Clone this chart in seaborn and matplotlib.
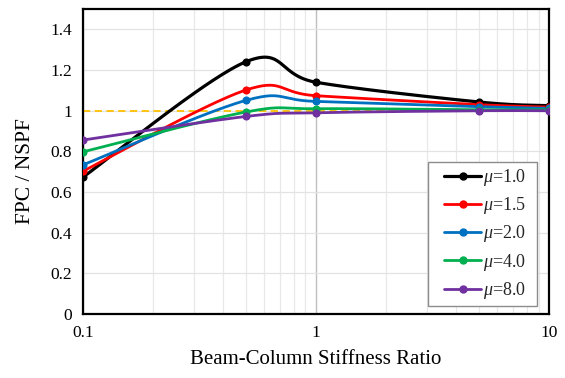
import numpy as np
import pandas as pd
import seaborn as sns
import matplotlib
matplotlib.use("Agg")
import matplotlib.pyplot as plt
from matplotlib.lines import Line2D
from matplotlib.legend_handler import HandlerLine2D
from matplotlib.ticker import FixedLocator, NullFormatter

# Beam-column stiffness ratios at which FPC/NSPF was evaluated
stiffness_ratio = [0.1, 0.5, 1, 5, 10]

# FPC / NSPF for each ductility level
mu_labels = ["1.0", "1.5", "2.0", "4.0", "8.0"]
ratio_mu_1_0 = [0.674, 1.241, 1.140, 1.043, 1.025]
ratio_mu_1_5 = [0.703, 1.102, 1.074, 1.030, 1.018]
ratio_mu_2_0 = [0.734, 1.051, 1.046, 1.020, 1.012]
ratio_mu_4_0 = [0.798, 0.994, 1.010, 1.005, 1.005]
ratio_mu_8_0 = [0.856, 0.972, 0.990, 1.000, 1.000]
series_colors = ["#000000", "#ff0000", "#0070c0", "#00b050", "#7030a0"]

reference_level = 1.0

sns.set_theme(style="white")
plt.rcParams["font.family"] = ["Liberation Serif", "DejaVu Serif"]
plt.rcParams["mathtext.fontset"] = "custom"
plt.rcParams["mathtext.rm"] = "Liberation Serif"
plt.rcParams["mathtext.it"] = "Liberation Serif:italic"


def smooth_curve(xs, ys, n=60):
    """Smoothed line through the points (Bezier / Catmull-Rom), built in log-x space."""
    u = np.log10(np.asarray(xs, float))
    v = np.asarray(ys, float)
    pts = np.column_stack([u, v])
    out = []
    for i in range(len(pts) - 1):
        p0 = pts[i - 1] if i > 0 else pts[i]
        p1 = pts[i]
        p2 = pts[i + 1]
        p3 = pts[i + 2] if i + 2 < len(pts) else pts[i + 1]
        c1 = p1 + (p2 - p0) / 6.0
        c2 = p2 - (p3 - p1) / 6.0
        t = np.linspace(0, 1, n)[:, None]
        seg = ((1 - t) ** 3) * p1 + 3 * ((1 - t) ** 2) * t * c1 + 3 * (1 - t) * t ** 2 * c2 + t ** 3 * p2
        out.append(seg if i == 0 else seg[1:])
    out = np.vstack(out)
    return 10 ** out[:, 0], out[:, 1]


fig = plt.figure(figsize=(5.65, 3.78), dpi=100)
ax = fig.add_axes([0.147, 0.169, 0.825, 0.807])

all_series = [ratio_mu_1_0, ratio_mu_1_5, ratio_mu_2_0, ratio_mu_4_0, ratio_mu_8_0]

# dashed reference line at FPC/NSPF = 1
ref = pd.DataFrame({"x": [stiffness_ratio[0], stiffness_ratio[-1]],
                    "y": [reference_level, reference_level]})
sns.lineplot(data=ref, x="x", y="y", ax=ax, color="#ffc000", lw=1.3,
             linestyle=(0, (4, 2.5)), legend=False, zorder=2)

handles = []
for lab, vals, col in zip(mu_labels, all_series, series_colors):
    sx, sy = smooth_curve(stiffness_ratio, vals)
    curve = pd.DataFrame({"x": sx, "y": sy})
    lw = 2.3 if col == "#000000" else 2.0
    sns.lineplot(data=curve, x="x", y="y", ax=ax, sort=False, color=col, lw=lw,
                 legend=False, zorder=3)
    pts = pd.DataFrame({"x": stiffness_ratio, "y": vals})
    sns.scatterplot(data=pts, x="x", y="y", ax=ax, color=col, s=34,
                    edgecolor=col, linewidth=0, legend=False, zorder=4)
    handles.append(Line2D([0], [0], color=col, lw=lw, marker="o", markersize=5,
                          label=r"$\mu$=" + lab + "  "))

ax.set_xscale("log")
ax.set_xlim(0.1, 10)
ax.set_ylim(0, 1.5)
ax.xaxis.set_major_locator(FixedLocator([0.1, 1, 10]))
ax.set_xticklabels(["0.1", "1", "10"])
ax.xaxis.set_minor_locator(FixedLocator([0.2, 0.3, 0.4, 0.5, 0.6, 0.7, 0.8, 0.9,
                                         2, 3, 4, 5, 6, 7, 8, 9]))
ax.xaxis.set_minor_formatter(NullFormatter())
yt = [0, 0.2, 0.4, 0.6, 0.8, 1.0, 1.2, 1.4]
ax.set_yticks(yt)
ax.set_yticklabels(["0", "0.2", "0.4", "0.6", "0.8", "1", "1.2", "1.4"])

ax.grid(False)
ax.grid(True, which="minor", axis="x", color="#e8e8e8", lw=0.9, zorder=0)
ax.grid(True, which="major", axis="x", color="#bfbfbf", lw=1.0, zorder=0)
ax.grid(True, which="major", axis="y", color="#e3e3e3", lw=0.9, zorder=0)
ax.set_axisbelow(True)

ax.tick_params(axis="both", which="both", length=0, labelsize=12.5, colors="black", pad=8)
for s in ax.spines.values():
    s.set_visible(True)
    s.set_color("black")
    s.set_linewidth(1.6)

ax.set_xlabel("Beam-Column Stiffness Ratio", fontsize=15, labelpad=6, color="black")
ax.set_ylabel("FPC / NSPF", fontsize=15.5, color="black")
ax.yaxis.set_label_coords(-0.104, 0.47)

leg = ax.legend(handles=handles, loc="upper left", bbox_to_anchor=(0.740, 0.50),
                fontsize=13, frameon=True, fancybox=False, framealpha=1,
                edgecolor="#8c8c8c", handlelength=2.65, handletextpad=0.1,
                labelspacing=0.4, borderpad=0.3, borderaxespad=0,
                handler_map={Line2D: HandlerLine2D(xpad=0.6)})
leg.get_frame().set_linewidth(1.0)

fig.savefig("out.png", dpi=100)
